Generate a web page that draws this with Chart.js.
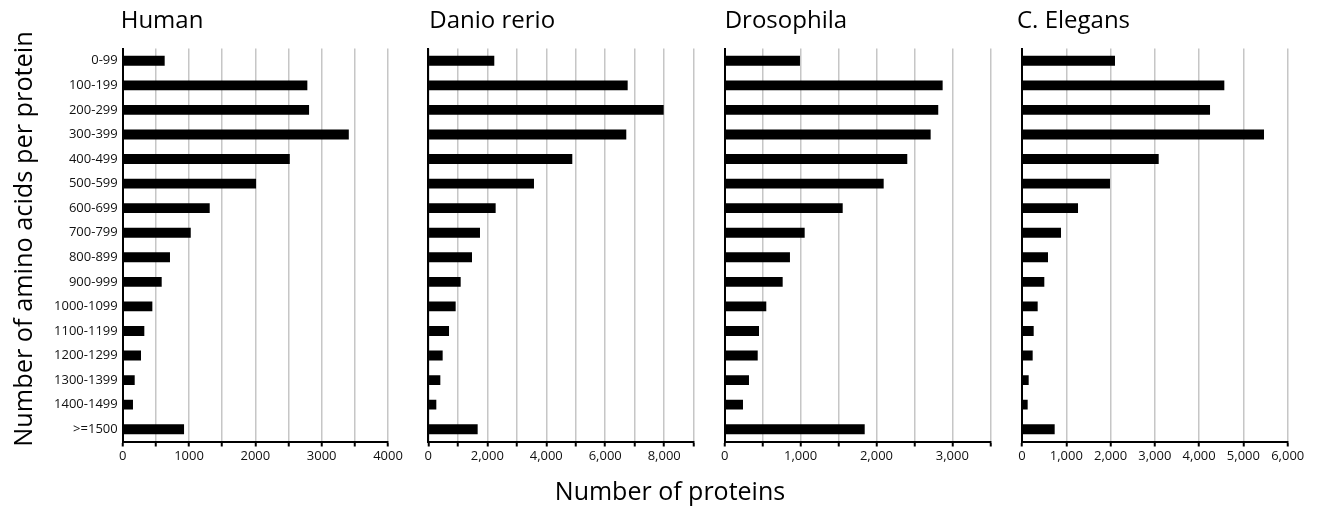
<!DOCTYPE html>
<html>
<head>
<meta charset="utf-8">
<script src="https://cdn.jsdelivr.net/npm/chart.js@4/dist/chart.umd.min.js"></script>
<style>
  html, body { margin: 0; padding: 0; background: #fff; }
  #wrap { position: relative; width: 1319px; height: 508px; overflow: hidden; font-family: "Open Sans", sans-serif; }
  .panel { position: absolute; top: 0; }
  #xtitle { position: absolute; left: 0; top: 473px; width: 1340px; text-align: center; font-size: 25px; line-height: 34px; color: #000; }
</style>
</head>
<body>
<div id="wrap">
  <canvas id="c0" class="panel"></canvas>
  <canvas id="c1" class="panel"></canvas>
  <canvas id="c2" class="panel"></canvas>
  <canvas id="c3" class="panel"></canvas>
  <div id="xtitle">Number of proteins</div>
</div>
<script>
// ---------------- data ----------------
const categories = ['0-99','100-199','200-299','300-399','400-499','500-599','600-699','700-799',
  '800-899','900-999','1000-1099','1100-1199','1200-1299','1300-1399','1400-1499','>=1500'];
const human      = [633, 2784, 2810, 3409, 2519, 2011, 1312, 1026, 713, 588, 447, 326, 276, 181, 155, 925];
const danio      = [2238, 6761, 7982, 6714, 4883, 3584, 2284, 1753, 1482, 1098, 928, 703, 487, 408, 272, 1674];
const drosophila = [992, 2872, 2814, 2714, 2406, 2095, 1555, 1054, 860, 764, 548, 452, 435, 320, 241, 1845];
const elegans    = [2100, 4569, 4246, 5465, 3087, 1987, 1265, 881, 587, 504, 354, 264, 241, 151, 128, 738];
const panelTitles = ['Human', 'Danio rerio', 'Drosophila', 'C. Elegans'];
const axisMax   = [4000, 9000, 3500, 6000];
const gridStep  = [500, 1000, 500, 1000];
const labelStep = [1000, 2000, 1000, 1000];
const useComma  = [false, true, true, true];
const yAxisTitle = 'Number of amino acids per protein';
const seriesList = [human, danio, drosophila, elegans];

// ---------------- layout ----------------
const layoutCfg = [
  { left: 0,    width: 410, axisW: 122.7, padR: 22.0, titleDx: -2 },
  { left: 410,  width: 300, axisW: 18.3,  padR: 16.3, titleDx: 1 },
  { left: 710,  width: 295, axisW: 14.7,  padR: 14.7, titleDx: 0 },
  { left: 1005, width: 314, axisW: 17.0,  padR: 31.3, titleDx: -5 }
];
const H = 480, TOP = 48.5, BOTTOM = 441.5;
const FONT = '"Open Sans", sans-serif';
const Y_TITLE_X = 25, Y_TITLE_Y = 239;

const panelTitlePlugin = {
  id: 'panelTitle',
  afterDraw(chart, args, opts) {
    const ctx = chart.ctx;
    ctx.save();
    ctx.font = '24px ' + FONT;
    ctx.fillStyle = '#000';
    ctx.textAlign = 'left';
    ctx.textBaseline = 'alphabetic';
    ctx.fillText(opts.text, chart.chartArea.left + opts.dx, 28);
    if (opts.yTitle) {
      ctx.translate(Y_TITLE_X, Y_TITLE_Y);
      ctx.rotate(-Math.PI / 2);
      ctx.font = '25.3px ' + FONT;
      ctx.textAlign = 'center';
      ctx.textBaseline = 'middle';
      ctx.fillText(opts.yTitle, 0, 0);
    }
    ctx.restore();
  }
};

seriesList.forEach((vals, i) => {
  const L = layoutCfg[i];
  const cv = document.getElementById('c' + i);
  cv.width = L.width; cv.height = H;
  cv.style.left = L.left + 'px';
  cv.style.width = L.width + 'px'; cv.style.height = H + 'px';
  const first = i === 0;
  new Chart(cv, {
    type: 'bar',
    data: {
      labels: categories,
      datasets: [{
        data: vals,
        backgroundColor: '#000',
        borderWidth: 0,
        barPercentage: 0.4,
        categoryPercentage: 1.0
      }]
    },
    options: {
      indexAxis: 'y',
      responsive: false,
      animation: false,
      layout: { padding: { top: TOP, right: L.padR, bottom: 0, left: 0 } },
      plugins: {
        legend: { display: false },
        tooltip: { enabled: false },
        panelTitle: { text: panelTitles[i], dx: L.titleDx, yTitle: first ? yAxisTitle : null }
      },
      scales: {
        x: {
          type: 'linear',
          min: 0,
          max: axisMax[i],
          afterFit(s) { s.height = H - BOTTOM; },
          grid: { color: '#c6c6c6', lineWidth: 1.5, drawTicks: true, tickLength: 5, tickColor: '#000', tickWidth: 2 },
          border: { display: true, color: '#000', width: 2 },
          ticks: {
            stepSize: gridStep[i],
            autoSkip: false,
            maxRotation: 0,
            padding: 2,
            color: '#111',
            font: { family: FONT, size: 13 },
            callback(v) {
              if (v % labelStep[i] !== 0) return '';
              return useComma[i] ? v.toLocaleString('en-US') : String(v);
            }
          }
        },
        y: {
          afterFit(s) { s.width = L.axisW; },
          grid: { display: false, drawTicks: false },
          border: { display: true, color: '#000', width: 2 },
          ticks: {
            display: first,
            autoSkip: false,
            padding: 5,
            color: '#111',
            font: { family: FONT, size: 13 }
          }
        }
      }
    },
    plugins: [panelTitlePlugin]
  });
});
</script>
</body>
</html>
